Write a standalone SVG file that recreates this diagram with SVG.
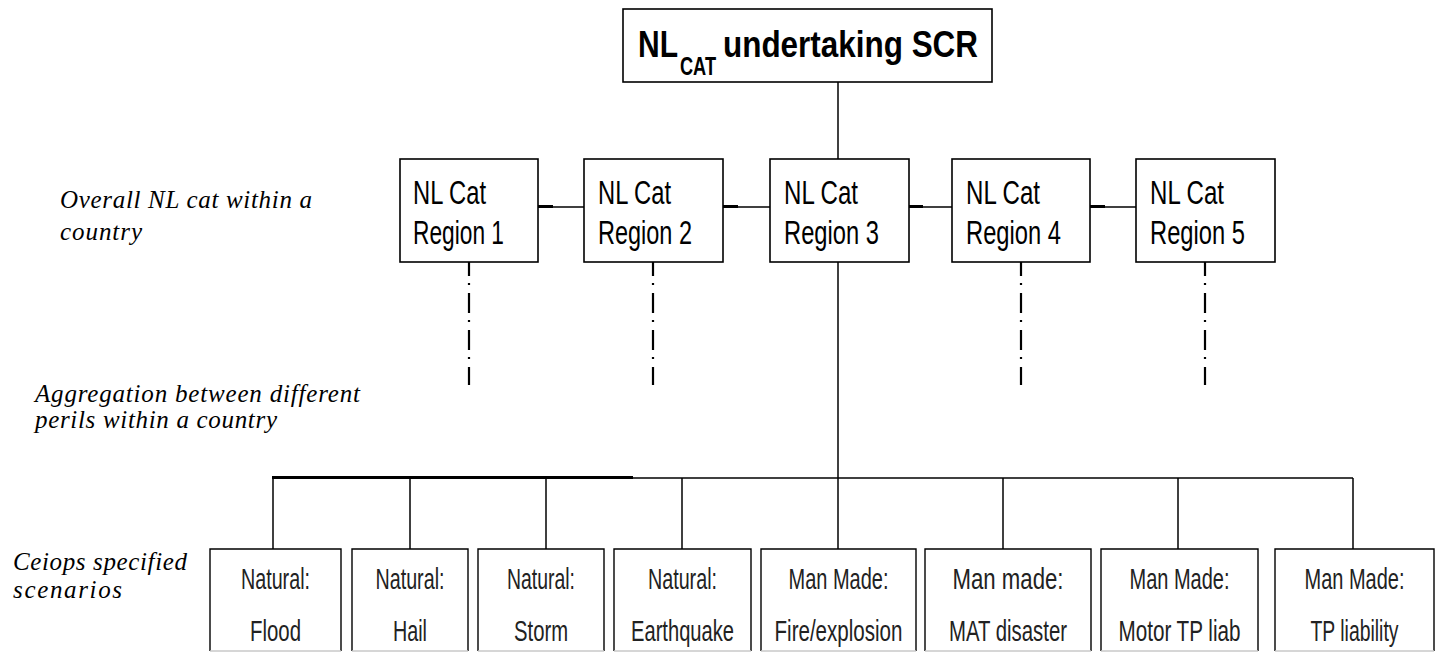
<svg xmlns="http://www.w3.org/2000/svg" width="1441" height="655" viewBox="0 0 1441 655">
<style>
.box{fill:#fff;stroke:#000;stroke-width:1.6}
.bbox{fill:none;stroke:#000;stroke-width:1.4}
.bbot{stroke:#c8c8c8;stroke-width:1.4}
.ln{stroke:#000;stroke-width:1.5;fill:none}
.thick{stroke:#000;stroke-width:3;fill:none}
.dd{stroke:#000;stroke-width:2.2;fill:none;stroke-dasharray:20 7 2 8}
.title{font-family:"Liberation Sans",Arial,sans-serif;font-weight:bold;fill:#000}
.reg{font-family:"Liberation Sans",Arial,sans-serif;font-size:33px;fill:#000}
.sc{font-family:"Liberation Sans",Arial,sans-serif;font-size:30px;fill:#222;text-anchor:middle}
.lab{font-family:"Liberation Serif","Times New Roman",serif;font-style:italic;font-size:25px;fill:#000}
</style>

<g id="connectors">
<line class="ln" x1="838" y1="82" x2="838" y2="159"/>
<line class="ln" x1="838" y1="262" x2="838" y2="478"/>
<line class="ln" x1="538" y1="207" x2="584" y2="207"/>
<line class="thick" x1="537" y1="206.5" x2="553" y2="206.5"/>
<line class="ln" x1="723" y1="207" x2="770" y2="207"/>
<line class="thick" x1="722" y1="206.5" x2="738" y2="206.5"/>
<line class="ln" x1="909" y1="207" x2="952" y2="207"/>
<line class="thick" x1="907" y1="206.5" x2="923" y2="206.5"/>
<line class="ln" x1="1090" y1="207" x2="1136" y2="207"/>
<line class="thick" x1="1089" y1="206.5" x2="1105" y2="206.5"/>
<line class="dd" x1="469" y1="256" x2="469" y2="385"/>
<line class="dd" x1="653" y1="256" x2="653" y2="385"/>
<line class="dd" x1="1021" y1="256" x2="1021" y2="385"/>
<line class="dd" x1="1205" y1="256" x2="1205" y2="385"/>
<line class="ln" x1="273" y1="478" x2="1353" y2="478"/>
<line class="thick" x1="272" y1="477.5" x2="633" y2="477.5"/>
<line class="ln" x1="273" y1="478" x2="273" y2="549"/>
<line class="ln" x1="410" y1="478" x2="410" y2="549"/>
<line class="ln" x1="546" y1="478" x2="546" y2="549"/>
<line class="ln" x1="682" y1="478" x2="682" y2="549"/>
<line class="ln" x1="838" y1="478" x2="838" y2="549"/>
<line class="ln" x1="1003" y1="478" x2="1003" y2="549"/>
<line class="ln" x1="1178" y1="478" x2="1178" y2="549"/>
<line class="ln" x1="1353" y1="478" x2="1353" y2="549"/>
</g>

<g id="top">
<rect class="box" x="623" y="9" width="369" height="73"/>
<text class="title"><tspan x="638" y="57" font-size="36" textLength="40" lengthAdjust="spacingAndGlyphs">NL</tspan><tspan x="680" y="75" font-size="26" textLength="36" lengthAdjust="spacingAndGlyphs">CAT</tspan><tspan x="723" y="57" font-size="36" textLength="255" lengthAdjust="spacingAndGlyphs">undertaking SCR</tspan></text>
</g>

<g id="region1">
<rect class="box" x="400" y="159" width="138" height="103"/>
<text class="reg" x="413" y="204" textLength="73" lengthAdjust="spacingAndGlyphs">NL Cat</text>
<text class="reg" x="413" y="244" textLength="91" lengthAdjust="spacingAndGlyphs">Region 1</text>
</g>
<g id="region2">
<rect class="box" x="584" y="159" width="139" height="103"/>
<text class="reg" x="598" y="204" textLength="73" lengthAdjust="spacingAndGlyphs">NL Cat</text>
<text class="reg" x="598" y="244" textLength="94" lengthAdjust="spacingAndGlyphs">Region 2</text>
</g>
<g id="region3">
<rect class="box" x="770" y="159" width="139" height="103"/>
<text class="reg" x="784" y="204" textLength="74" lengthAdjust="spacingAndGlyphs">NL Cat</text>
<text class="reg" x="784" y="244" textLength="95" lengthAdjust="spacingAndGlyphs">Region 3</text>
</g>
<g id="region4">
<rect class="box" x="952" y="159" width="138" height="103"/>
<text class="reg" x="966" y="204" textLength="74" lengthAdjust="spacingAndGlyphs">NL Cat</text>
<text class="reg" x="966" y="244" textLength="95" lengthAdjust="spacingAndGlyphs">Region 4</text>
</g>
<g id="region5">
<rect class="box" x="1136" y="159" width="139" height="103"/>
<text class="reg" x="1150" y="204" textLength="74" lengthAdjust="spacingAndGlyphs">NL Cat</text>
<text class="reg" x="1150" y="244" textLength="95" lengthAdjust="spacingAndGlyphs">Region 5</text>
</g>

<g id="s1">
<path class="bbox" d="M210,651 V549 H341 V651"/><line class="bbot" x1="210" y1="651" x2="341" y2="651"/>
<text class="sc" x="275.5" y="589" textLength="69" lengthAdjust="spacingAndGlyphs">Natural:</text>
<text class="sc" x="275.5" y="641" textLength="51" lengthAdjust="spacingAndGlyphs">Flood</text>
</g>
<g id="s2">
<path class="bbox" d="M352,651 V549 H468 V651"/><line class="bbot" x1="352" y1="651" x2="468" y2="651"/>
<text class="sc" x="410" y="589" textLength="69" lengthAdjust="spacingAndGlyphs">Natural:</text>
<text class="sc" x="410" y="641" textLength="34" lengthAdjust="spacingAndGlyphs">Hail</text>
</g>
<g id="s3">
<path class="bbox" d="M478,651 V549 H604 V651"/><line class="bbot" x1="478" y1="651" x2="604" y2="651"/>
<text class="sc" x="541" y="589" textLength="68" lengthAdjust="spacingAndGlyphs">Natural:</text>
<text class="sc" x="541" y="641" textLength="54" lengthAdjust="spacingAndGlyphs">Storm</text>
</g>
<g id="s4">
<path class="bbox" d="M614,651 V549 H751 V651"/><line class="bbot" x1="614" y1="651" x2="751" y2="651"/>
<text class="sc" x="682.5" y="589" textLength="69" lengthAdjust="spacingAndGlyphs">Natural:</text>
<text class="sc" x="682.5" y="641" textLength="103" lengthAdjust="spacingAndGlyphs">Earthquake</text>
</g>
<g id="s5">
<path class="bbox" d="M761,651 V549 H916 V651"/><line class="bbot" x1="761" y1="651" x2="916" y2="651"/>
<text class="sc" x="838.5" y="589" textLength="100" lengthAdjust="spacingAndGlyphs">Man Made:</text>
<text class="sc" x="838.5" y="641" textLength="128" lengthAdjust="spacingAndGlyphs">Fire/explosion</text>
</g>
<g id="s6">
<path class="bbox" d="M925,651 V549 H1091 V651"/><line class="bbot" x1="925" y1="651" x2="1091" y2="651"/>
<text class="sc" x="1008" y="589" textLength="111" lengthAdjust="spacingAndGlyphs">Man made:</text>
<text class="sc" x="1008" y="641" textLength="118" lengthAdjust="spacingAndGlyphs">MAT disaster</text>
</g>
<g id="s7">
<path class="bbox" d="M1101,651 V549 H1258 V651"/><line class="bbot" x1="1101" y1="651" x2="1258" y2="651"/>
<text class="sc" x="1179.5" y="589" textLength="100" lengthAdjust="spacingAndGlyphs">Man Made:</text>
<text class="sc" x="1179.5" y="641" textLength="122" lengthAdjust="spacingAndGlyphs">Motor TP liab</text>
</g>
<g id="s8">
<path class="bbox" d="M1275,651 V549 H1434 V651"/><line class="bbot" x1="1275" y1="651" x2="1434" y2="651"/>
<text class="sc" x="1354.5" y="589" textLength="100" lengthAdjust="spacingAndGlyphs">Man Made:</text>
<text class="sc" x="1354.5" y="641" textLength="88" lengthAdjust="spacingAndGlyphs">TP liability</text>
</g>

<g id="labels">
<text class="lab" x="60" y="208" textLength="252" lengthAdjust="spacing">Overall NL cat within a</text>
<text class="lab" x="60" y="240" textLength="82" lengthAdjust="spacing">country</text>
<text class="lab" x="35" y="402" textLength="325" lengthAdjust="spacing">Aggregation between different</text>
<text class="lab" x="35" y="428" textLength="242" lengthAdjust="spacing">perils within a country</text>
<text class="lab" x="13" y="570" textLength="174" lengthAdjust="spacing">Ceiops specified</text>
<text class="lab" x="13" y="598" textLength="109" lengthAdjust="spacing">scenarios</text>
</g>
</svg>
